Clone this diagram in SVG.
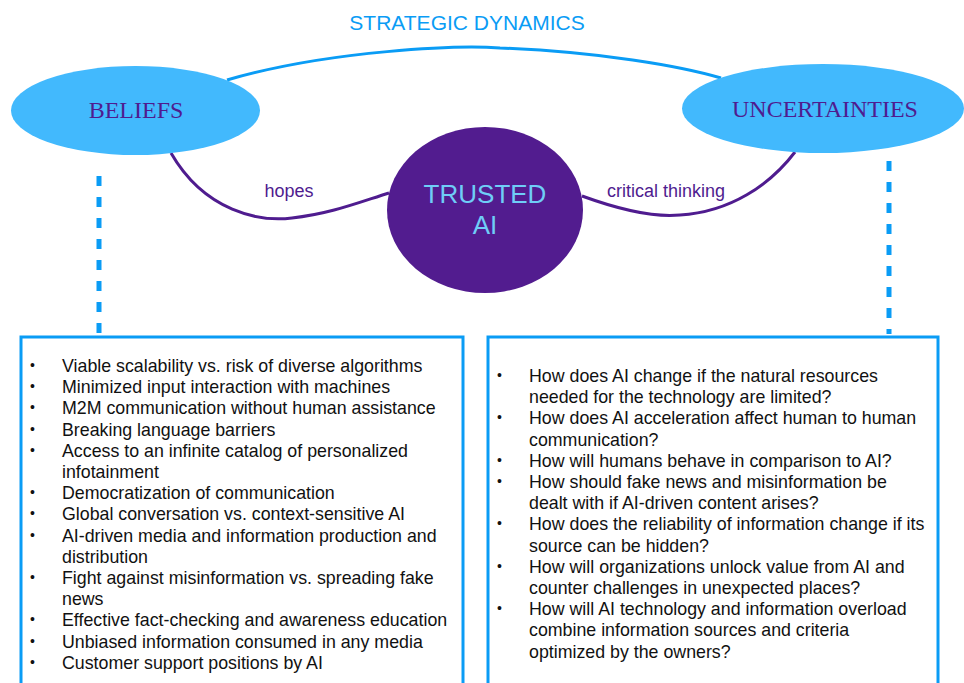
<svg xmlns="http://www.w3.org/2000/svg" width="964" height="683" viewBox="0 0 964 683">
  <style>
    .title { font-family: "Liberation Sans", Arial, sans-serif; font-size: 21px; fill: #0a9cf5; }
    .node-label { font-family: "Liberation Serif", "Times New Roman", serif; font-size: 24px; fill: #4f1c8f; }
    .core-label { font-family: "Liberation Sans", Arial, sans-serif; font-size: 26px; fill: #6fcdf7; }
    .edge-label { font-family: "Liberation Sans", Arial, sans-serif; font-size: 18px; fill: #4f1c8f; }
    .list { font-family: "Liberation Sans", Arial, sans-serif; font-size: 17.8px; fill: #111; }
    .bullet { font-size: 14px; }
    .bubble { fill: #42b9fd; }
    .core { fill: #521c8f; }
    .link-blue { fill: none; stroke: #0a9cf5; stroke-width: 3; }
    .link-purple { fill: none; stroke: #4f1c8f; stroke-width: 3; }
    .dash { fill: none; stroke: #0a9cf5; stroke-width: 5; stroke-dasharray: 10 11; }
    .panel { fill: #ffffff; stroke: #0a9cf5; stroke-width: 3; }
  </style>

  <rect width="964" height="683" fill="#ffffff"/>

  <text class="title" x="467" y="30" text-anchor="middle">STRATEGIC DYNAMICS</text>

  <!-- connectors -->
  <g id="connectors">
    <path class="link-blue" d="M227,80 C330,50 460,45 500,48 C600,52 680,66 721,78"/>
    <path class="link-purple" d="M171,153 C205,212 260,222 292,218 C330,214 360,202 389,193"/>
    <path class="link-purple" d="M582,196 C615,208 650,218 680,215 C730,212 770,185 795,152"/>
    <line class="dash" x1="99" y1="176" x2="99" y2="334"/>
    <line class="dash" x1="889" y1="161" x2="889" y2="334"/>
    <text class="edge-label" x="289" y="197" text-anchor="middle">hopes</text>
    <text class="edge-label" x="666" y="197" text-anchor="middle">critical thinking</text>
  </g>

  <g id="beliefs">
    <ellipse class="bubble" cx="135.5" cy="110.5" rx="124.5" ry="44.5"/>
    <text class="node-label" x="136" y="118" text-anchor="middle">BELIEFS</text>
  </g>

  <g id="uncertainties">
    <ellipse class="bubble" cx="823" cy="108.5" rx="141" ry="44.5"/>
    <text class="node-label" x="825" y="117" text-anchor="middle">UNCERTAINTIES</text>
  </g>

  <g id="trusted-ai">
    <ellipse class="core" cx="485" cy="210" rx="98" ry="83"/>
    <text class="core-label" x="485" y="203" text-anchor="middle">TRUSTED</text>
    <text class="core-label" x="485" y="234" text-anchor="middle">AI</text>
  </g>

  <g id="beliefs-list">
    <rect class="panel" x="21" y="337" width="442" height="360"/>
    <g class="list">
      <text class="bullet" x="30" y="370">•</text><text x="62" y="372">Viable scalability vs. risk of diverse algorithms</text>
      <text class="bullet" x="30" y="391.2">•</text><text x="62" y="393.2">Minimized input interaction with machines</text>
      <text class="bullet" x="30" y="412.4">•</text><text x="62" y="414.4">M2M communication without human assistance</text>
      <text class="bullet" x="30" y="433.6">•</text><text x="62" y="435.6">Breaking language barriers</text>
      <text class="bullet" x="30" y="454.8">•</text><text x="62" y="456.8">Access to an infinite catalog of personalized</text>
      <text x="62" y="478">infotainment</text>
      <text class="bullet" x="30" y="497.2">•</text><text x="62" y="499.2">Democratization of communication</text>
      <text class="bullet" x="30" y="518.4">•</text><text x="62" y="520.4">Global conversation vs. context-sensitive AI</text>
      <text class="bullet" x="30" y="539.6">•</text><text x="62" y="541.6">AI-driven media and information production and</text>
      <text x="62" y="562.8">distribution</text>
      <text class="bullet" x="30" y="582">•</text><text x="62" y="584">Fight against misinformation vs. spreading fake</text>
      <text x="62" y="605.2">news</text>
      <text class="bullet" x="30" y="624.4">•</text><text x="62" y="626.4">Effective fact-checking and awareness education</text>
      <text class="bullet" x="30" y="645.6">•</text><text x="62" y="647.6">Unbiased information consumed in any media</text>
      <text class="bullet" x="30" y="666.8">•</text><text x="62" y="668.8">Customer support positions by AI</text>
    </g>
  </g>

  <g id="uncertainties-list">
    <rect class="panel" x="488" y="337" width="450" height="360"/>
    <g class="list">
      <text class="bullet" x="497" y="380">•</text><text x="529" y="382">How does AI change if the natural resources</text>
      <text x="529" y="403.2">needed for the technology are limited?</text>
      <text class="bullet" x="497" y="422.4">•</text><text x="529" y="424.4">How does AI acceleration affect human to human</text>
      <text x="529" y="445.6">communication?</text>
      <text class="bullet" x="497" y="464.8">•</text><text x="529" y="466.8">How will humans behave in comparison to AI?</text>
      <text class="bullet" x="497" y="486">•</text><text x="529" y="488">How should fake news and misinformation be</text>
      <text x="529" y="509.2">dealt with if AI-driven content arises?</text>
      <text class="bullet" x="497" y="528.4">•</text><text x="529" y="530.4">How does the reliability of information change if its</text>
      <text x="529" y="551.6">source can be hidden?</text>
      <text class="bullet" x="497" y="570.8">•</text><text x="529" y="572.8">How will organizations unlock value from AI and</text>
      <text x="529" y="594">counter challenges in unexpected places?</text>
      <text class="bullet" x="497" y="613.2">•</text><text x="529" y="615.2">How will AI technology and information overload</text>
      <text x="529" y="636.4">combine information sources and criteria</text>
      <text x="529" y="657.6">optimized by the owners?</text>
    </g>
  </g>
</svg>
